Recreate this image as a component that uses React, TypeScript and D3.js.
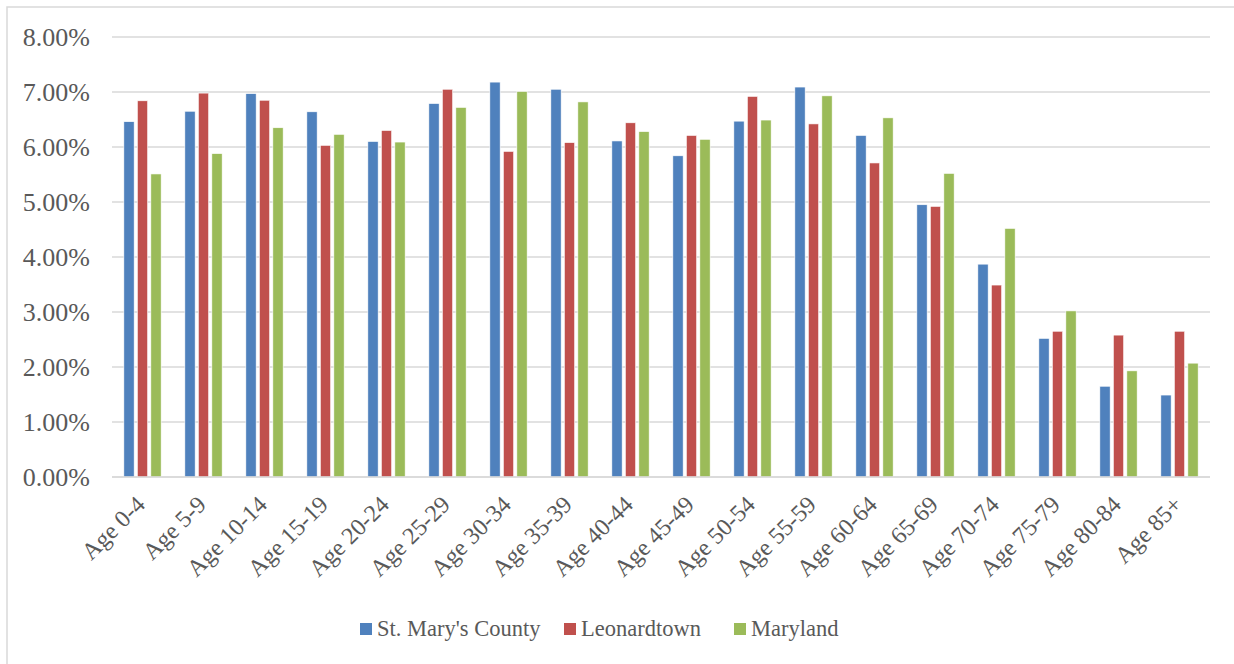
import React from "react";
import * as d3 from "d3";

const categories = [
  "Age 0-4", "Age 5-9", "Age 10-14", "Age 15-19", "Age 20-24", "Age 25-29",
  "Age 30-34", "Age 35-39", "Age 40-44", "Age 45-49", "Age 50-54", "Age 55-59",
  "Age 60-64", "Age 65-69", "Age 70-74", "Age 75-79", "Age 80-84", "Age 85+",
];
const seriesNames = ["St. Mary's County", "Leonardtown", "Maryland"];
const seriesColors = ["#4f81bd", "#c0504d", "#9bbb59"];
const stMarys = [6.46, 6.65, 6.97, 6.64, 6.10, 6.79, 7.18, 7.05, 6.11, 5.84, 6.47, 7.09, 6.21, 4.95, 3.87, 2.52, 1.65, 1.49];
const leonardtown = [6.84, 6.98, 6.85, 6.03, 6.30, 7.05, 5.92, 6.08, 6.44, 6.21, 6.92, 6.42, 5.71, 4.92, 3.49, 2.65, 2.58, 2.65];
const maryland = [5.51, 5.88, 6.35, 6.23, 6.09, 6.72, 7.01, 6.82, 6.28, 6.14, 6.49, 6.93, 6.53, 5.52, 4.52, 3.02, 1.93, 2.07];
const yTicks = [0, 1, 2, 3, 4, 5, 6, 7, 8];

const W = 1234;
const H = 664;
const FONT = "'Liberation Serif', 'Times New Roman', serif";
const TEXT = "#595959";

export default function App() {
  const values = [stMarys, leonardtown, maryland];
  const x0 = d3.scaleBand<string>().domain(categories).range([112, 1210]).padding(0);
  const bw = x0.bandwidth();
  const groupW = 37.3;
  const x1 = d3
    .scaleBand<string>()
    .domain(seriesNames)
    .range([bw / 2 - groupW / 2, bw / 2 + groupW / 2])
    .paddingInner(0.237)
    .paddingOuter(0);
  const y = d3.scaleLinear().domain([0, 8]).range([477, 37]);

  const legendX = [360, 564, 734];

  return (
    <svg
      width={W}
      height={H}
      style={{ position: "absolute", left: 0, top: 0, background: "#fff" }}
    >
      <rect x={7} y={7} width={W + 20} height={H + 20} fill="#fff" stroke="#d9d9d9" strokeWidth={1.5} />
      {yTicks.map((t) => (
        <g key={t}>
          <line x1={112} x2={1210} y1={y(t)} y2={y(t)} stroke="#d9d9d9" strokeWidth={1.5} />
          <text
            x={90}
            y={y(t)}
            dy="0.35em"
            textAnchor="end"
            fontFamily={FONT}
            fontSize={26}
            fill={TEXT}
          >
            {t.toFixed(2) + "%"}
          </text>
        </g>
      ))}
      {categories.map((c, i) => (
        <g key={c} transform={`translate(${x0(c)},0)`}>
          {seriesNames.map((s, j) => (
            <rect
              key={s}
              x={x1(s)}
              y={y(values[j][i])}
              width={x1.bandwidth()}
              height={y(0) - y(values[j][i])}
              fill={seriesColors[j]}
              stroke="#fff"
              strokeWidth={0.6}
            />
          ))}
        </g>
      ))}
      <line x1={112} x2={1210} y1={y(0)} y2={y(0)} stroke="#d9d9d9" strokeWidth={1.5} />
      {categories.map((c) => {
        const cx = (x0(c) as number) + bw / 2 + 4;
        const cy = 506;
        return (
          <text
            key={c}
            transform={`translate(${cx},${cy}) rotate(-45)`}
            textAnchor="end"
            fontFamily={FONT}
            fontSize={24}
            fill={TEXT}
          >
            {c}
          </text>
        );
      })}
      {seriesNames.map((s, j) => (
        <g key={s}>
          <rect x={legendX[j]} y={623} width={12} height={12} fill={seriesColors[j]} />
          <text
            x={legendX[j] + 17}
            y={636}
            fontFamily={FONT}
            fontSize={22.5}
            fill={TEXT}
          >
            {s}
          </text>
        </g>
      ))}
    </svg>
  );
}
